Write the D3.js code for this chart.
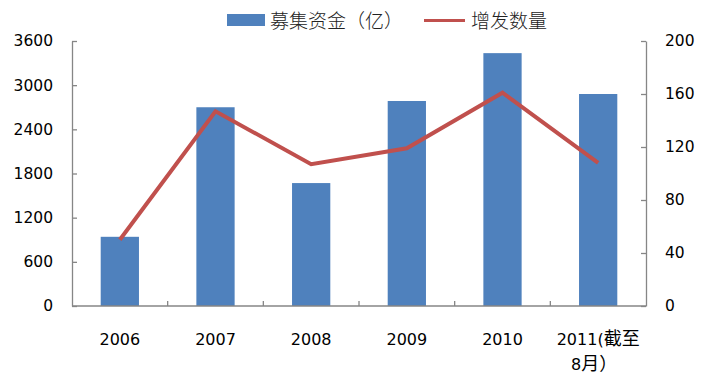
<!DOCTYPE html>
<html><head><meta charset="utf-8">
<script src="https://cdn.jsdelivr.net/npm/d3@7/dist/d3.min.js"></script>
<style>
body{margin:0;background:#fff;}
svg{display:block;}
text{font-family:"DejaVu Sans","Noto Sans CJK SC",sans-serif;}
</style></head>
<body>
<svg id="c" width="708" height="378"></svg>
<script>
const categories = ["2006","2007","2008","2009","2010","2011(截至\n8月）"];
const fundsRaised = [940, 2700, 1670, 2785, 3435, 2880];
const issueCount = [50, 147, 107, 119, 161, 108];
const leftTicks = [0, 600, 1200, 1800, 2400, 3000, 3600];
const rightTicks = [0, 40, 80, 120, 160, 200];
const seriesNames = ["募集资金（亿）", "增发数量"];

const W = 708, H = 378;
const m = {left: 72, right: 646, top: 41, bottom: 306};
const svg = d3.select("#c");
const axisColor = "#868686";
const barColor = "#4F81BD";
const lineColor = "#C0504D";

const x = d3.scaleBand().domain(categories).range([m.left, m.right]).paddingInner(0.6).paddingOuter(0.3);
const yL = d3.scaleLinear().domain([0, 3600]).range([m.bottom, m.top]);
const yR = d3.scaleLinear().domain([0, 200]).range([m.bottom, m.top]);

// bars
svg.append("g").selectAll("rect").data(categories).join("rect")
  .attr("x", d => x(d)).attr("width", x.bandwidth())
  .attr("y", (d,i) => yL(fundsRaised[i]))
  .attr("height", (d,i) => yL(0) - yL(fundsRaised[i]))
  .attr("fill", barColor);

// axes
const gL = svg.append("g").attr("transform", `translate(${m.left},0)`)
  .call(d3.axisLeft(yL).tickValues(leftTicks).tickSizeInner(-5).tickSizeOuter(0).tickPadding(19).tickFormat(d3.format("d")));
const gR = svg.append("g").attr("transform", `translate(${m.right},0)`)
  .call(d3.axisRight(yR).tickValues(rightTicks).tickSizeInner(-5).tickSizeOuter(0).tickPadding(19).tickFormat(d3.format("d")));
[gL, gR].forEach(g => {
  g.select(".domain").attr("stroke", axisColor).attr("stroke-width", 1.3);
  g.selectAll(".tick line").attr("stroke", axisColor).attr("stroke-width", 1.3);
  g.selectAll(".tick text").attr("fill", "#000").style("font-size", "15.5px").style("font-family", "DejaVu Sans");
});

// bottom axis with boundary ticks
const boundaries = d3.range(1, categories.length).map(i => m.left + (m.right - m.left) * i / categories.length);
const gB = svg.append("g");
gB.append("line").attr("x1", m.left).attr("x2", m.right).attr("y1", m.bottom).attr("y2", m.bottom)
  .attr("stroke", axisColor).attr("stroke-width", 1.3);
gB.selectAll("line.t").data(boundaries).join("line").attr("class","t")
  .attr("x1", d => d).attr("x2", d => d).attr("y1", m.bottom).attr("y2", m.bottom - 5)
  .attr("stroke", axisColor).attr("stroke-width", 1.3);
gB.selectAll("text").data(categories).join("text")
  .attr("x", d => x(d) + x.bandwidth()/2)
  .attr("y", 345)
  .attr("text-anchor", "middle")
  .style("font-size", "16px")
  .each(function(d){
    const lines = d.split("\n");
    const t = d3.select(this);
    lines.forEach((l, i) => {
      const ts = t.append("tspan").attr("x", x(d) + x.bandwidth()/2 - (i ? 4 : 0)).attr("dy", i ? 25 : 0);
      // split CJK runs so they can be sized slightly larger
      const parts = l.match(/[\u3000-\u9fff\uff00-\uffef]+|[^\u3000-\u9fff\uff00-\uffef]+/g) || [];
      parts.forEach(p => {
        const cjk = /[\u3000-\u9fff\uff00-\uffef]/.test(p);
        ts.append("tspan").text(p).style("font-size", cjk ? "18px" : "16px")
          .style("font-family", cjk ? "Noto Sans CJK SC" : "DejaVu Sans");
      });
    });
  });

// line
const line = d3.line().x((d,i) => x(categories[i]) + x.bandwidth()/2).y(d => yR(d));
svg.append("path").datum(issueCount).attr("d", line)
  .attr("fill", "none").attr("stroke", lineColor).attr("stroke-width", 4).attr("stroke-linejoin", "miter");

// legend
const lg = svg.append("g");
lg.append("rect").attr("x", 227).attr("y", 14).attr("width", 38).attr("height", 12).attr("fill", barColor);
lg.append("text").attr("x", 270).attr("y", 28).text(seriesNames[0])
  .style("font-size", "19px").style("font-family", "Noto Sans CJK SC").style("font-weight", 300).attr("fill", "#222");
lg.append("line").attr("x1", 424).attr("x2", 465).attr("y1", 20.5).attr("y2", 20.5)
  .attr("stroke", lineColor).attr("stroke-width", 3);
lg.append("text").attr("x", 471).attr("y", 28).text(seriesNames[1])
  .style("font-size", "19px").style("font-family", "Noto Sans CJK SC").style("font-weight", 300).attr("fill", "#222");
</script>
</body></html>
